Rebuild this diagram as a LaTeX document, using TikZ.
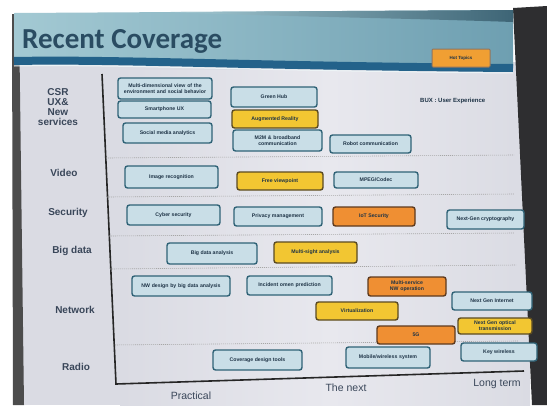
\documentclass[tikz,border=0pt]{standalone}
\usepackage{fontspec}
\setmainfont{Liberation Sans}
\newfontfamily\titlefont{Carlito}
\definecolor{bluefill}{HTML}{C9DEE7}
\definecolor{blueline}{HTML}{2F6276}
\definecolor{yelfill}{HTML}{F2C632}
\definecolor{yelline}{HTML}{5B4B22}
\definecolor{orfill}{HTML}{EF8F33}
\definecolor{orline}{HTML}{5E3A1E}
\definecolor{boxtext}{HTML}{1E3346}
\definecolor{rowtext}{HTML}{394659}
\definecolor{panel}{HTML}{DADBE3}
\definecolor{panellight}{HTML}{E8E8EE}
\definecolor{titledark}{HTML}{2A4C62}
\definecolor{barleft}{HTML}{A3C9D3}
\definecolor{barright}{HTML}{6E9FB1}
\definecolor{bartop}{HTML}{3E6576}
\definecolor{barstripe}{HTML}{23628A}
\definecolor{monitor}{HTML}{2E2E30}
\tikzset{
  tile/.style={rounded corners=2.5pt, line width=1.4pt, inner sep=1pt,
    align=center, font=\fontsize{5.2}{5.8}\selectfont\bfseries, text=boxtext},
  bbox/.style={tile, draw=blueline, fill=bluefill},
  ybox/.style={tile, draw=yelline, fill=yelfill},
  obox/.style={tile, draw=orline, fill=orfill},
  rowlabel/.style={font=\fontsize{10}{11}\selectfont\bfseries, text=rowtext, align=center, inner sep=0pt},
  axislabel/.style={font=\fontsize{10.5}{11}\selectfont, text=rowtext, inner sep=0pt},
  divider/.style={draw=gray!70, line width=0.6pt, dash pattern=on 1pt off 1pt},
}
\begin{document}
\begin{tikzpicture}[x=1pt,y=-1pt]
\useasboundingbox (0,0) rectangle (547,405);
% page, slide panel and monitor frame
\fill[white] (0,0) rectangle (547,405);
\fill[panel] (14,62) rectangle (530,405);
\shade[left color=panel, right color=panellight] (120,70) rectangle (330,405);
\shade[left color=panellight, right color=panel] (330,70) rectangle (530,405);
\fill[monitor] (513,8) -- (547,6) -- (547,405) -- (532,405) -- cycle;
\fill[black!70] (12,14) -- (19,14) -- (24,405) -- (13,405) -- cycle;
% title bar
\shade[left color=barleft, right color=barright] (14,13) -- (513,10) -- (513,66) -- (14,62) -- cycle;
\shade[left color=barleft, right color=bartop] (170,12) -- (513,10) -- (513,22) .. controls (400,18) and (250,16) .. (170,12) -- cycle;
\draw[barstripe, line width=8pt] (14,61) .. controls (120,59) and (250,66) .. (513,68);
\draw[white!80!barleft, line width=1pt] (14,66) .. controls (120,64) and (250,71) .. (513,73);
\node[anchor=base west, font=\titlefont\fontsize{29}{30}\selectfont\bfseries, text=titledark, inner sep=0pt] (title) at (22,48) {Recent Coverage};
\node[obox, line width=1pt, draw=orline!70, fill=orfill!70!yelfill, minimum width=58pt, minimum height=18pt, rounded corners=1pt,
  font=\fontsize{4.5}{5}\selectfont\bfseries] (hot) at (461,58) {Hot Topics};

% axes
\coordinate (top) at (102,74);
\coordinate (origin) at (116,384);
\coordinate (right) at (524,371);
\draw[black!85, line width=1.6pt] (top) -- (origin) -- (right);

% row dividers
\draw[divider] (106,158) -- (514,155);
\draw[divider] (107,197) -- (514,194);
\draw[divider] (109,236) -- (514,233);
\draw[divider] (110,269) -- (516,265);
\draw[divider] (113,345) -- (518,341);

% row labels
\node[rowlabel] (csr) at (58,107) {CSR\\[-1pt]UX\&\\[-1pt]New\\[-1pt]services};
\node[rowlabel] (video) at (64,173) {Video};
\node[rowlabel] (security) at (68,213) {Security};
\node[rowlabel] (bigdata) at (72,251) {Big data};
\node[rowlabel] (network) at (75,310) {Network};
\node[rowlabel] (radio) at (76,367) {Radio};

% axis labels
\node[axislabel] (practical) at (191,396) {Practical};
\node[axislabel] (next) at (346,388) {The next};
\node[axislabel] (long) at (497,384) {Long term};

\node[font=\fontsize{6}{7}\selectfont\bfseries, text=boxtext, anchor=west, inner sep=0pt] (bux) at (420,101) {BUX : User Experience};

% CSR / UX / new services
\node[bbox, minimum width=94pt, minimum height=21pt, text width=90pt] (multi) at (165,88.5) {Multi-dimensional view of the environment and social behavior};
\node[bbox, minimum width=93pt, minimum height=17pt] (smart) at (164.5,109.5) {Smartphone UX};
\node[bbox, minimum width=89pt, minimum height=20pt] (social) at (167.5,133) {Social media analytics};
\node[bbox, minimum width=86pt, minimum height=20pt] (green) at (274,97) {Green Hub};
\node[ybox, minimum width=86pt, minimum height=18pt] (ar) at (275,119) {Augmented Reality};
\node[bbox, minimum width=89pt, minimum height=21pt, text width=80pt] (m2m) at (277.5,140.5) {M2M \& broadband communication};
\node[bbox, minimum width=81pt, minimum height=18pt] (robot) at (370.5,144) {Robot communication};

% video
\node[bbox, minimum width=93pt, minimum height=22pt] (image) at (171.5,177) {Image recognition};
\node[ybox, minimum width=86pt, minimum height=18pt] (free) at (280,181) {Free viewpoint};
\node[bbox, minimum width=84pt, minimum height=16pt] (mpeg) at (376,180) {MPEG/Codec};

% security
\node[bbox, minimum width=93pt, minimum height=20pt] (cyber) at (173.5,215) {Cyber security};
\node[bbox, minimum width=88pt, minimum height=19pt] (privacy) at (278,216.5) {Privacy management};
\node[obox, minimum width=82pt, minimum height=19pt] (iot) at (374,216.5) {IoT Security};
\node[bbox, minimum width=77pt, minimum height=19pt] (crypto) at (485.5,219.5) {Next-Gen cryptography};

% big data
\node[bbox, minimum width=90pt, minimum height=21pt] (bda) at (212,253.5) {Big data analysis};
\node[ybox, minimum width=83pt, minimum height=21pt] (msa) at (315.5,252.5) {Multi-sight analysis};

% network
\node[bbox, minimum width=98pt, minimum height=20pt, text width=88pt] (nwd) at (181,286) {NW design by big data analysis};
\node[bbox, minimum width=85pt, minimum height=19pt, text width=70pt] (incident) at (289.5,285.5) {Incident omen prediction};
\node[obox, minimum width=78pt, minimum height=19pt, text width=66pt] (msop) at (407,286.5) {Multi-service NW operation};
\node[bbox, minimum width=80pt, minimum height=18pt] (ngi) at (492,301) {Next Gen Internet};
\node[ybox, minimum width=82pt, minimum height=18pt] (virt) at (357,311) {Virtualization};
\node[ybox, minimum width=74pt, minimum height=16pt, text width=70pt] (optical) at (495,326) {Next Gen optical\\transmission};
\node[obox, minimum width=78pt, minimum height=18pt] (fiveg) at (416,335) {5G};

% radio
\node[bbox, minimum width=76pt, minimum height=18pt] (keyw) at (499,352) {Key wireless};
\node[bbox, minimum width=89pt, minimum height=20pt] (cov) at (257.5,360) {Coverage design tools};
\node[bbox, minimum width=84pt, minimum height=21pt, text width=74pt] (mws) at (388,357.5) {Mobile/wireless system};
\end{tikzpicture}
\end{document}
